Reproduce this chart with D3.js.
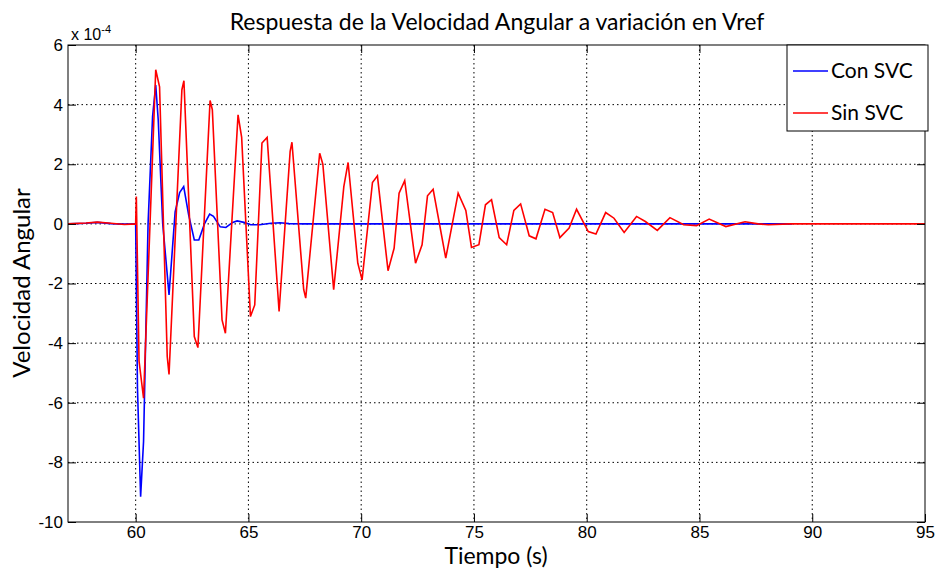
<!DOCTYPE html>
<html>
<head>
<meta charset="utf-8">
<script src="https://cdn.jsdelivr.net/npm/d3@7"></script>
<style>
    body { margin: 0; background: #ffffff; }
    svg { display: block; }
</style>
</head>
<body>
<svg id="chart" width="942" height="570"></svg>
<script>
// Con SVC (blue) - values in units of 1e-4
var conTime = [57, 57.8, 58.3, 58.9, 59.5, 60.0, 60.08, 60.22, 60.35, 60.55, 60.75, 60.89, 61.0, 61.2,
    61.48, 61.75, 61.95, 62.13, 62.35, 62.6, 62.8, 63.05, 63.28, 63.45, 63.75, 64.0, 64.3, 64.5,
    64.8, 65.1, 65.5, 66.0, 66.4, 66.8, 67.5, 70, 75, 80, 85, 89.1];
var conValue = [0, 0.02, 0.05, 0.01, -0.01, 0, -5.5, -9.15, -7.3, 0, 3.6, 4.66, 3.5, 0,
    -2.38, 0.4, 1.05, 1.25, 0.3, -0.54, -0.54, 0, 0.33, 0.25, -0.1, -0.12, 0.05, 0.1,
    0.05, -0.03, -0.03, 0.02, 0.04, 0.01, 0, 0, 0, 0, 0, 0];

// Sin SVC (red)
var sinTime = [57, 57.8, 58.3, 58.9, 59.5, 60.0, 60.03, 60.15, 60.35, 60.89, 61.06, 61.4, 61.48,
    62.05, 62.14, 62.6, 62.76, 63.3, 63.4, 63.83, 63.98, 64.54, 64.7, 65.09, 65.28, 65.6, 65.83,
    66.36, 66.85, 66.93, 67.45, 67.54, 68.16, 68.3, 68.78, 69.23, 69.42, 69.85, 70.04, 70.5, 70.72,
    71.19, 71.46, 71.68, 71.93, 72.41, 72.7, 72.94, 73.19, 73.75, 74.3, 74.64, 74.89, 75.22,
    75.51, 75.78, 76.12, 76.45, 76.77, 77.07, 77.45, 77.75, 78.15, 78.49, 78.81, 79.22, 79.55,
    80.07, 80.41, 80.84, 81.21, 81.66, 82.21, 82.6, 83.13, 83.69, 84.3, 84.87, 85.43, 86.17,
    87.02, 87.6, 88.05, 89.0, 95];
var sinValue = [0, 0.03, 0.06, 0.02, -0.02, 0, 0.92, -4.6, -5.85, 5.17, 4.6, -4.45, -5.05,
    4.5, 4.8, -3.78, -4.15, 4.14, 3.83, -3.22, -3.67, 3.66, 2.9, -3.11, -2.72, 2.71, 2.9,
    -2.94, 2.43, 2.74, -2.2, -2.49, 2.37, 2.0, -2.21, 1.25, 2.06, -1.32, -1.88, 1.39, 1.61,
    -1.57, -0.82, 1.03, 1.45, -1.32, -0.7, 0.94, 1.16, -1.15, 1.03, 0.45, -0.79, -0.7,
    0.64, 0.81, -0.46, -0.7, 0.45, 0.67, -0.4, -0.5, 0.49, 0.38, -0.46, -0.14, 0.49,
    -0.26, -0.34, 0.38, 0.19, -0.29, 0.25, 0.08, -0.22, 0.21, -0.03, -0.06, 0.16, -0.09,
    0.07, 0, -0.03, 0, 0];

var xTicks = [60, 65, 70, 75, 80, 85, 90, 95];
var yTicks = [-10, -8, -6, -4, -2, 0, 2, 4, 6];
var seriesNames = ['Con SVC', 'Sin SVC'];
var seriesColors = ['#0000ff', '#ff0000'];

var plotLeft = 68, plotRight = 925, plotTop = 45, plotBottom = 522;
var svg = d3.select('#chart');

var x = d3.scaleLinear().domain([57, 95]).range([plotLeft, plotRight]);
var y = d3.scaleLinear().domain([-10, 6]).range([plotBottom, plotTop]);

var tickFont = '"Liberation Sans Narrow", "Arial Narrow", "Liberation Sans", sans-serif';
var labelFont = 'Lato, "Open Sans", sans-serif';

// grid
var grid = svg.append('g').attr('class', 'grid');
grid.selectAll('line.gx')
    .data(xTicks.filter(d => d > 57 && d < 95))
    .enter()
    .append('line')
    .attr('class', 'gx')
    .attr('x1', d => x(d))
    .attr('x2', d => x(d))
    .attr('y1', plotTop)
    .attr('y2', plotBottom)
    .attr('stroke', '#000')
    .attr('stroke-width', 1)
    .attr('stroke-dasharray', '1.5,3');
grid.selectAll('line.gy')
    .data(yTicks.filter(d => d > -10 && d < 6))
    .enter()
    .append('line')
    .attr('class', 'gy')
    .attr('x1', plotLeft)
    .attr('x2', plotRight)
    .attr('y1', d => y(d))
    .attr('y2', d => y(d))
    .attr('stroke', '#000')
    .attr('stroke-width', 1)
    .attr('stroke-dasharray', '1.5,3');

// series
var line = d3.line()
    .x(d => x(d[0]))
    .y(d => y(d[1]));

var conData = d3.zip(conTime, conValue);
var sinData = d3.zip(sinTime, sinValue);

svg.append('g')
    .selectAll('path')
    .data([conData, sinData])
    .enter()
    .append('path')
    .attr('d', line)
    .attr('fill', 'none')
    .attr('stroke', (d, i) => seriesColors[i])
    .attr('stroke-width', 1.6)
    .attr('stroke-linejoin', 'miter');

// axes with inward ticks, MATLAB style box
var axisBottom = d3.axisBottom(x).tickValues(xTicks).tickSize(-8).tickPadding(4);
var axisTop = d3.axisTop(x).tickValues(xTicks).tickSize(-8).tickFormat('');
var axisLeft = d3.axisLeft(y).tickValues(yTicks).tickSize(-8).tickPadding(5)
    .tickFormat(d => d);
var axisRight = d3.axisRight(y).tickValues(yTicks).tickSize(-8).tickFormat('');

function styleAxis(g) {
    g.select('.domain').remove();
    g.selectAll('.tick line').attr('stroke', '#000');
    g.selectAll('.tick text')
        .attr('fill', '#000')
        .style('font-family', tickFont)
        .style('font-size', '17px');
}

svg.append('g').attr('transform', 'translate(0,' + plotBottom + ')').call(axisBottom).call(styleAxis);
svg.append('g').attr('transform', 'translate(0,' + plotTop + ')').call(axisTop).call(styleAxis);
svg.append('g').attr('transform', 'translate(' + plotLeft + ',0)').call(axisLeft).call(styleAxis);
svg.append('g').attr('transform', 'translate(' + plotRight + ',0)').call(axisRight).call(styleAxis);

svg.append('rect')
    .attr('x', plotLeft)
    .attr('y', plotTop)
    .attr('width', plotRight - plotLeft)
    .attr('height', plotBottom - plotTop)
    .attr('fill', 'none')
    .attr('stroke', '#000')
    .attr('stroke-width', 1);

// exponent label
var expo = svg.append('text')
    .attr('x', 71)
    .attr('y', 40)
    .style('font-family', tickFont)
    .style('font-size', '16px')
    .attr('fill', '#000');
expo.append('tspan').text('x 10');
expo.append('tspan').attr('dy', -7).style('font-size', '11px').text('-4');

// title and axis labels
svg.append('text')
    .attr('x', 497)
    .attr('y', 30)
    .attr('text-anchor', 'middle')
    .style('font-family', labelFont)
    .style('font-size', '23px')
    .attr('fill', '#000')
    .text('Respuesta de la Velocidad Angular a variación en Vref');

svg.append('text')
    .attr('x', 496)
    .attr('y', 564)
    .attr('text-anchor', 'middle')
    .style('font-family', labelFont)
    .style('font-size', '23px')
    .attr('fill', '#000')
    .text('Tiempo (s)');

svg.append('text')
    .attr('transform', 'translate(30,' + 283 + ') rotate(-90)')
    .attr('text-anchor', 'middle')
    .style('font-family', labelFont)
    .style('font-size', '24px')
    .attr('fill', '#000')
    .text('Velocidad Angular');

// legend
var legend = svg.append('g').attr('transform', 'translate(787,45)');
legend.append('rect')
    .attr('width', 141)
    .attr('height', 86)
    .attr('fill', '#fff')
    .attr('stroke', '#000')
    .attr('stroke-width', 1);
var items = legend.selectAll('g.item')
    .data(seriesNames)
    .enter()
    .append('g')
    .attr('class', 'item')
    .attr('transform', (d, i) => 'translate(0,' + (26 + i * 42) + ')');
items.append('line')
    .attr('x1', 6)
    .attr('x2', 41)
    .attr('stroke', (d, i) => seriesColors[i])
    .attr('stroke-width', 1.6);
items.append('text')
    .attr('x', 44)
    .attr('dy', '0.35em')
    .style('font-family', labelFont)
    .style('font-size', '21px')
    .attr('fill', '#000')
    .text(d => d);
</script>
</body>
</html>
